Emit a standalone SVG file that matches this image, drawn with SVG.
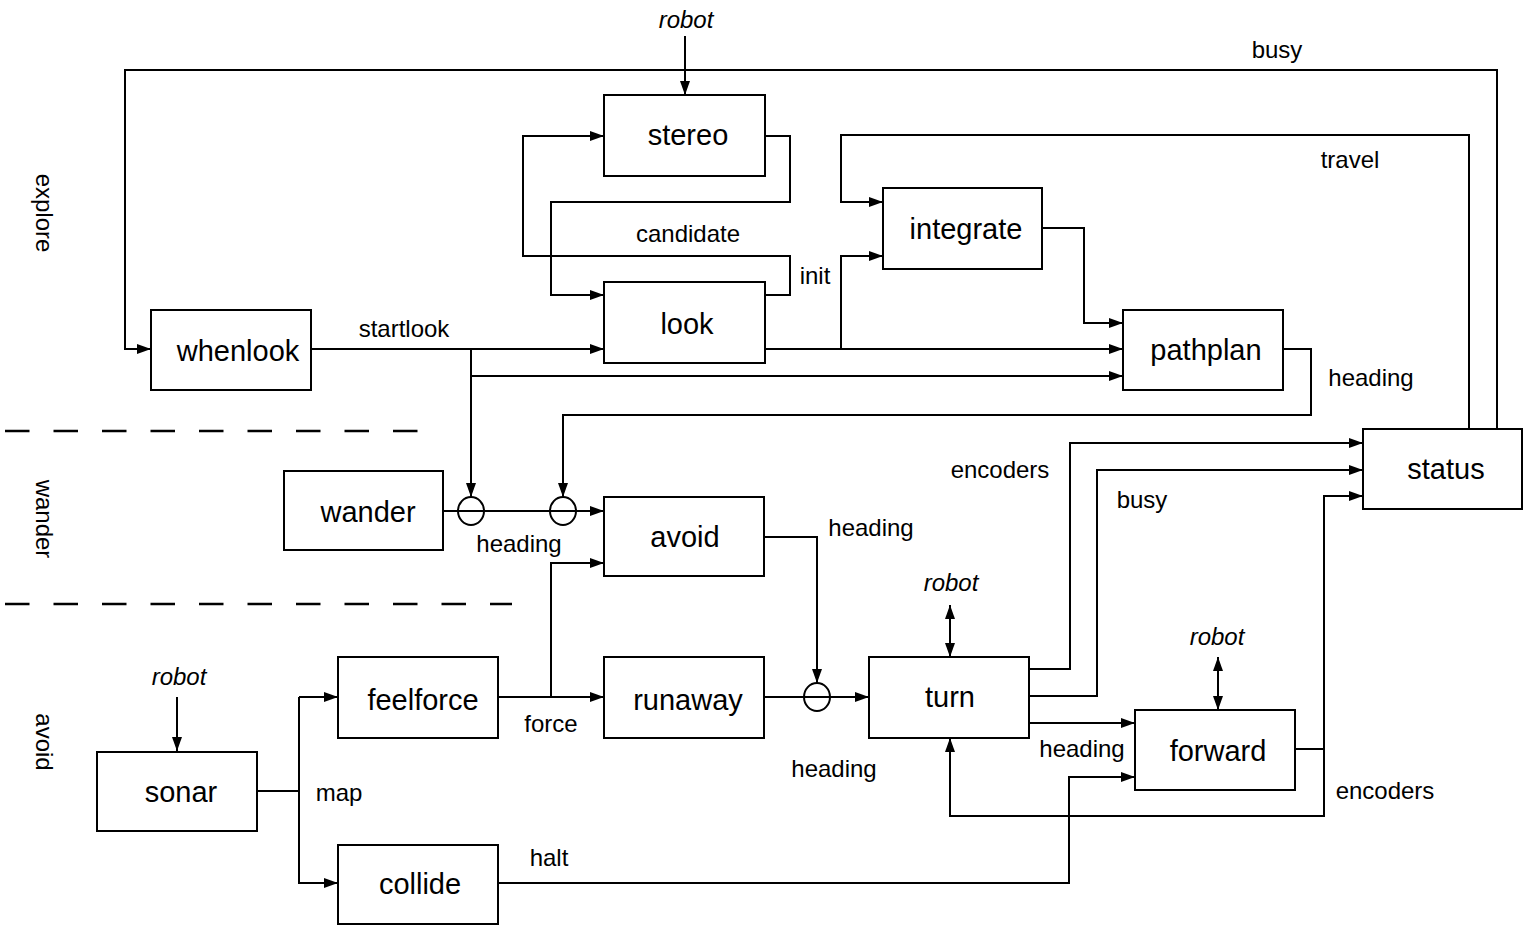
<svg xmlns="http://www.w3.org/2000/svg" width="1532" height="932" viewBox="0 0 1532 932">
<style>
.box{fill:#fff;stroke:#000;stroke-width:2}
.bl{font-family:"Liberation Sans",Arial,sans-serif;font-size:29px;text-anchor:middle;fill:#000}
.lb{font-family:"Liberation Sans",Arial,sans-serif;font-size:24px;text-anchor:middle;fill:#000}
.it{font-style:italic}
.c{fill:none;stroke:#000;stroke-width:2}
.a{marker-end:url(#ah)}
.d{marker-start:url(#ah);marker-end:url(#ah)}
.dash{stroke:#000;stroke-width:2.5;stroke-dasharray:24.5 24}
</style>
<defs>
<marker id="ah" markerUnits="userSpaceOnUse" markerWidth="14" markerHeight="10" refX="14" refY="5" orient="auto-start-reverse">
<path d="M0,0 L14,5 L0,10 z" fill="#000"/>
</marker>
</defs>
<rect width="1532" height="932" fill="#fff"/>

<g id="section-labels">
<text class="lb" transform="translate(36,213) rotate(90)">explore</text>
<text class="lb" transform="translate(36,519) rotate(90)">wander</text>
<text class="lb" transform="translate(36,742) rotate(90)">avoid</text>
<line class="dash" x1="5" y1="431" x2="418" y2="431"/>
<line class="dash" x1="5" y1="604" x2="512" y2="604"/>
</g>

<g id="connectors">
<path class="c a" d="M685,36 V95"/>
<path class="c a" d="M765,136 H790 V202 H551 V295 H604"/>
<path class="c a" d="M765,295 H790 V256 H523 V136 H604"/>
<path class="c a" d="M311,349 H604"/>
<path class="c a" d="M471,349 V497"/>
<path class="c a" d="M471,376 H1123"/>
<path class="c a" d="M765,349 H1123"/>
<path class="c a" d="M841,349 V256 H883"/>
<path class="c a" d="M1042,228 H1084 V323 H1123"/>
<path class="c a" d="M1469,429 V135 H841 V202 H883"/>
<path class="c a" d="M1497,429 V70 H125 V349 H151"/>
<path class="c a" d="M1283,349 H1311 V415 H563 V497"/>
<path class="c a" d="M443,511 H604"/>
<ellipse class="c" cx="471" cy="511" rx="13" ry="14"/>
<ellipse class="c" cx="563" cy="511" rx="13" ry="14"/>
<path class="c a" d="M498,697 H604"/>
<path class="c a" d="M551,697 V563 H604"/>
<path class="c a" d="M764,537 H817 V683"/>
<path class="c a" d="M764,697 H869"/>
<ellipse class="c" cx="817" cy="697" rx="13" ry="14"/>
<path class="c a" d="M1029,669 H1070 V443 H1363"/>
<path class="c a" d="M1029,696 H1097 V470 H1363"/>
<path class="c a" d="M1029,723 H1135"/>
<path class="c d" d="M950,605 V657"/>
<path class="c d" d="M1218,657 V710"/>
<path class="c a" d="M1295,749 H1324 V496 H1363"/>
<path class="c a" d="M1324,749 V816 H950 V738"/>
<path class="c a" d="M498,883 H1069 V777 H1135"/>
<path class="c a" d="M177,697 V751"/>
<path class="c" d="M257,791 H299"/>
<path class="c a" d="M299,697 V883 H338"/>
<path class="c a" d="M299,697 H338"/>

<text class="lb it" x="686" y="28">robot</text>
<text class="lb" x="1277" y="58">busy</text>
<text class="lb" x="1350" y="168">travel</text>
<text class="lb" x="688" y="242">candidate</text>
<text class="lb" x="815" y="284">init</text>
<text class="lb" x="404" y="337">startlook</text>
<text class="lb" x="1371" y="386">heading</text>
<text class="lb" x="1000" y="478">encoders</text>
<text class="lb" x="1142" y="508">busy</text>
<text class="lb" x="871" y="536">heading</text>
<text class="lb" x="519" y="552">heading</text>
<text class="lb it" x="951" y="591">robot</text>
<text class="lb it" x="1217" y="645">robot</text>
<text class="lb it" x="179" y="685">robot</text>
<text class="lb" x="551" y="732">force</text>
<text class="lb" x="1082" y="757">heading</text>
<text class="lb" x="834" y="777">heading</text>
<text class="lb" x="1385" y="799">encoders</text>
<text class="lb" x="339" y="801">map</text>
<text class="lb" x="549" y="866">halt</text>
</g>

<g id="stereo"><rect class="box" x="604" y="95" width="161" height="81"/><text class="bl" x="688" y="145">stereo</text></g>
<g id="look"><rect class="box" x="604" y="282" width="161" height="81"/><text class="bl" x="687" y="334">look</text></g>
<g id="whenlook"><rect class="box" x="151" y="310" width="160" height="80"/><text class="bl" x="238" y="361">whenlook</text></g>
<g id="integrate"><rect class="box" x="883" y="188" width="159" height="81"/><text class="bl" x="966" y="239">integrate</text></g>
<g id="pathplan"><rect class="box" x="1123" y="310" width="160" height="80"/><text class="bl" x="1206" y="360">pathplan</text></g>
<g id="status"><rect class="box" x="1363" y="429" width="159" height="80"/><text class="bl" x="1446" y="479">status</text></g>
<g id="wander"><rect class="box" x="284" y="471" width="159" height="79"/><text class="bl" x="368" y="522">wander</text></g>
<g id="avoid"><rect class="box" x="604" y="497" width="160" height="79"/><text class="bl" x="685" y="547">avoid</text></g>
<g id="feelforce"><rect class="box" x="338" y="657" width="160" height="81"/><text class="bl" x="423" y="710">feelforce</text></g>
<g id="runaway"><rect class="box" x="604" y="657" width="160" height="81"/><text class="bl" x="688" y="710">runaway</text></g>
<g id="turn"><rect class="box" x="869" y="657" width="160" height="81"/><text class="bl" x="950" y="707">turn</text></g>
<g id="forward"><rect class="box" x="1135" y="710" width="160" height="80"/><text class="bl" x="1218" y="761">forward</text></g>
<g id="sonar"><rect class="box" x="97" y="752" width="160" height="79"/><text class="bl" x="181" y="802">sonar</text></g>
<g id="collide"><rect class="box" x="338" y="845" width="160" height="79"/><text class="bl" x="420" y="894">collide</text></g>
</svg>
